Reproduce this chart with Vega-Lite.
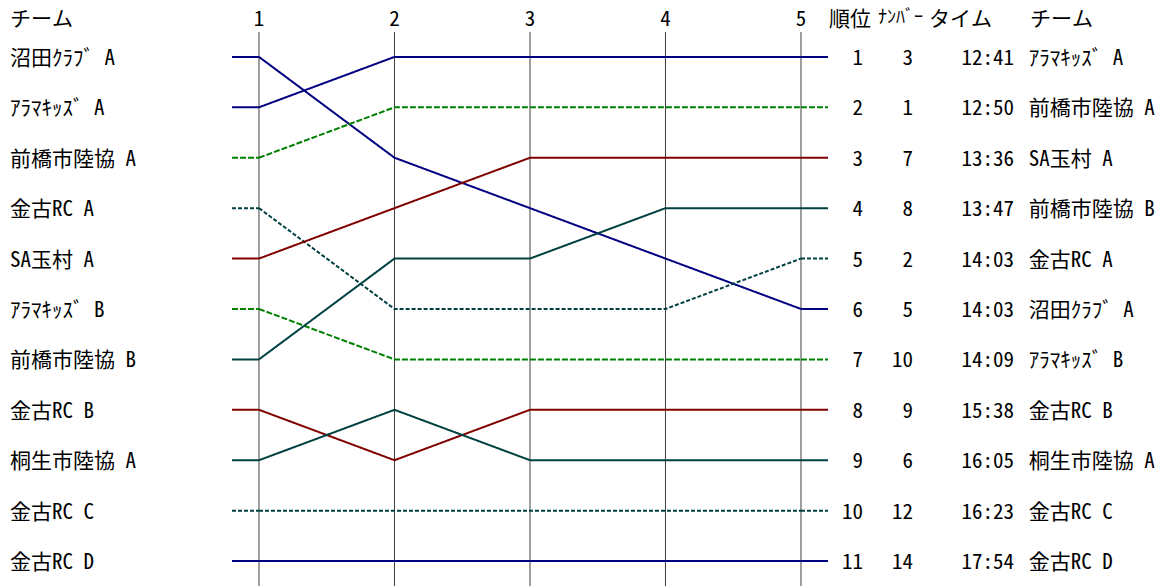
{
  "$schema": "https://vega.github.io/schema/vega-lite/v6.json",
  "width": 1167,
  "height": 587,
  "autosize": {"type": "fit", "contains": "padding"},
  "padding": 0,
  "background": "white",
  "config": {"view": {"stroke": null}, "text": {"font": "Noto Sans Mono CJK JP, Noto Sans CJK JP", "fontSize": 21, "color": "black", "dy": 2}},
  "datasets": {
    "legs": [
      {"team": "沼田ｸﾗﾌﾞ A", "leg": 1, "rank": 1}, {"team": "沼田ｸﾗﾌﾞ A", "leg": 2, "rank": 3}, {"team": "沼田ｸﾗﾌﾞ A", "leg": 3, "rank": 4}, {"team": "沼田ｸﾗﾌﾞ A", "leg": 4, "rank": 5}, {"team": "沼田ｸﾗﾌﾞ A", "leg": 5, "rank": 6},
      {"team": "ｱﾗﾏｷｯｽﾞ A", "leg": 1, "rank": 2}, {"team": "ｱﾗﾏｷｯｽﾞ A", "leg": 2, "rank": 1}, {"team": "ｱﾗﾏｷｯｽﾞ A", "leg": 3, "rank": 1}, {"team": "ｱﾗﾏｷｯｽﾞ A", "leg": 4, "rank": 1}, {"team": "ｱﾗﾏｷｯｽﾞ A", "leg": 5, "rank": 1},
      {"team": "前橋市陸協 A", "leg": 1, "rank": 3}, {"team": "前橋市陸協 A", "leg": 2, "rank": 2}, {"team": "前橋市陸協 A", "leg": 3, "rank": 2}, {"team": "前橋市陸協 A", "leg": 4, "rank": 2}, {"team": "前橋市陸協 A", "leg": 5, "rank": 2},
      {"team": "金古RC A", "leg": 1, "rank": 4}, {"team": "金古RC A", "leg": 2, "rank": 6}, {"team": "金古RC A", "leg": 3, "rank": 6}, {"team": "金古RC A", "leg": 4, "rank": 6}, {"team": "金古RC A", "leg": 5, "rank": 5},
      {"team": "SA玉村 A", "leg": 1, "rank": 5}, {"team": "SA玉村 A", "leg": 2, "rank": 4}, {"team": "SA玉村 A", "leg": 3, "rank": 3}, {"team": "SA玉村 A", "leg": 4, "rank": 3}, {"team": "SA玉村 A", "leg": 5, "rank": 3},
      {"team": "ｱﾗﾏｷｯｽﾞ B", "leg": 1, "rank": 6}, {"team": "ｱﾗﾏｷｯｽﾞ B", "leg": 2, "rank": 7}, {"team": "ｱﾗﾏｷｯｽﾞ B", "leg": 3, "rank": 7}, {"team": "ｱﾗﾏｷｯｽﾞ B", "leg": 4, "rank": 7}, {"team": "ｱﾗﾏｷｯｽﾞ B", "leg": 5, "rank": 7},
      {"team": "前橋市陸協 B", "leg": 1, "rank": 7}, {"team": "前橋市陸協 B", "leg": 2, "rank": 5}, {"team": "前橋市陸協 B", "leg": 3, "rank": 5}, {"team": "前橋市陸協 B", "leg": 4, "rank": 4}, {"team": "前橋市陸協 B", "leg": 5, "rank": 4},
      {"team": "金古RC B", "leg": 1, "rank": 8}, {"team": "金古RC B", "leg": 2, "rank": 9}, {"team": "金古RC B", "leg": 3, "rank": 8}, {"team": "金古RC B", "leg": 4, "rank": 8}, {"team": "金古RC B", "leg": 5, "rank": 8},
      {"team": "桐生市陸協 A", "leg": 1, "rank": 9}, {"team": "桐生市陸協 A", "leg": 2, "rank": 8}, {"team": "桐生市陸協 A", "leg": 3, "rank": 9}, {"team": "桐生市陸協 A", "leg": 4, "rank": 9}, {"team": "桐生市陸協 A", "leg": 5, "rank": 9},
      {"team": "金古RC C", "leg": 1, "rank": 10}, {"team": "金古RC C", "leg": 2, "rank": 10}, {"team": "金古RC C", "leg": 3, "rank": 10}, {"team": "金古RC C", "leg": 4, "rank": 10}, {"team": "金古RC C", "leg": 5, "rank": 10},
      {"team": "金古RC D", "leg": 1, "rank": 11}, {"team": "金古RC D", "leg": 2, "rank": 11}, {"team": "金古RC D", "leg": 3, "rank": 11}, {"team": "金古RC D", "leg": 4, "rank": 11}, {"team": "金古RC D", "leg": 5, "rank": 11}
    ],
    "results": [
      {"rank": 1, "num": 3, "time": "12:41", "team": "ｱﾗﾏｷｯｽﾞ A"},
      {"rank": 2, "num": 1, "time": "12:50", "team": "前橋市陸協 A"},
      {"rank": 3, "num": 7, "time": "13:36", "team": "SA玉村 A"},
      {"rank": 4, "num": 8, "time": "13:47", "team": "前橋市陸協 B"},
      {"rank": 5, "num": 2, "time": "14:03", "team": "金古RC A"},
      {"rank": 6, "num": 5, "time": "14:03", "team": "沼田ｸﾗﾌﾞ A"},
      {"rank": 7, "num": 10, "time": "14:09", "team": "ｱﾗﾏｷｯｽﾞ B"},
      {"rank": 8, "num": 9, "time": "15:38", "team": "金古RC B"},
      {"rank": 9, "num": 6, "time": "16:05", "team": "桐生市陸協 A"},
      {"rank": 10, "num": 12, "time": "16:23", "team": "金古RC C"},
      {"rank": 11, "num": 14, "time": "17:54", "team": "金古RC D"}
    ],
    "legLabels": [{"leg": 1}, {"leg": 2}, {"leg": 3}, {"leg": 4}, {"leg": 5}],
    "headers": [
      {"label": "チーム", "col": "left"},
      {"label": "順位", "col": "rank"},
      {"label": "タイム", "col": "time"},
      {"label": "チーム", "col": "right"}
    ]
  },
  "layer": [
    {
      "data": {"name": "legLabels"},
      "mark": {"type": "rule", "color": "#404040", "strokeWidth": 1},
      "encoding": {
        "x": {"field": "leg", "type": "quantitative", "scale": {"domain": [-0.9114, 7.7011], "nice": false, "zero": false}, "axis": null},
        "y": {"datum": 0.505, "type": "quantitative", "scale": {"domain": [-0.1287, 11.4951], "nice": false, "zero": false, "reverse": true}, "axis": null},
        "y2": {"datum": 11.4951}
      }
    },
    {
      "data": {"name": "legLabels"},
      "mark": {"type": "text", "baseline": "middle", "align": "center"},
      "encoding": {
        "x": {"field": "leg", "type": "quantitative"},
        "y": {"datum": 0.2277, "type": "quantitative"},
        "text": {"field": "leg"}
      }
    },
    {
      "data": {"name": "legs"},
      "mark": {"type": "line", "strokeWidth": 2},
      "encoding": {
        "x": {"field": "leg", "type": "quantitative"},
        "y": {"field": "rank", "type": "quantitative"},
        "detail": {"field": "team"},
        "color": {"field": "team", "type": "nominal", "legend": null,
          "scale": {"domain": ["沼田ｸﾗﾌﾞ A", "ｱﾗﾏｷｯｽﾞ A", "前橋市陸協 A", "金古RC A", "SA玉村 A", "ｱﾗﾏｷｯｽﾞ B", "前橋市陸協 B", "金古RC B", "桐生市陸協 A", "金古RC C", "金古RC D"],
                    "range": ["#000080", "#000080", "#008000", "#004040", "#800000", "#008000", "#004040", "#800000", "#004040", "#004040", "#000080"]}},
        "strokeDash": {"field": "team", "type": "nominal", "legend": null,
          "scale": {"domain": ["沼田ｸﾗﾌﾞ A", "ｱﾗﾏｷｯｽﾞ A", "前橋市陸協 A", "金古RC A", "SA玉村 A", "ｱﾗﾏｷｯｽﾞ B", "前橋市陸協 B", "金古RC B", "桐生市陸協 A", "金古RC C", "金古RC D"],
                    "range": [[1, 0], [1, 0], [6, 2], [4, 2], [1, 0], [6, 2], [1, 0], [1, 0], [1, 0], [4, 2], [1, 0]]}}
      }
    },
    {
      "data": {"name": "legs"},
      "transform": [{"filter": "datum.leg == 1"}],
      "mark": {"type": "rule", "strokeWidth": 2},
      "encoding": {
        "x": {"datum": 0.8007, "type": "quantitative"},
        "x2": {"datum": 1},
        "y": {"field": "rank", "type": "quantitative"},
        "color": {"field": "team", "type": "nominal", "legend": null},
        "strokeDash": {"field": "team", "type": "nominal", "legend": null}
      }
    },
    {
      "data": {"name": "legs"},
      "transform": [{"filter": "datum.leg == 5"}],
      "mark": {"type": "rule", "strokeWidth": 2},
      "encoding": {
        "x": {"datum": 5, "type": "quantitative"},
        "x2": {"datum": 5.1993},
        "y": {"field": "rank", "type": "quantitative"},
        "color": {"field": "team", "type": "nominal", "legend": null},
        "strokeDash": {"field": "team", "type": "nominal", "legend": null}
      }
    },
    {
      "data": {"name": "legs"},
      "transform": [{"filter": "datum.leg == 1"}],
      "mark": {"type": "text", "align": "left", "baseline": "middle"},
      "encoding": {
        "x": {"datum": -0.8376, "type": "quantitative"},
        "y": {"field": "rank", "type": "quantitative"},
        "text": {"field": "team"}
      }
    },
    {
      "data": {"name": "results"},
      "mark": {"type": "text", "align": "right", "baseline": "middle"},
      "encoding": {
        "x": {"datum": 5.4576, "type": "quantitative"},
        "y": {"field": "rank", "type": "quantitative"},
        "text": {"field": "rank"}
      }
    },
    {
      "data": {"name": "results"},
      "mark": {"type": "text", "align": "right", "baseline": "middle"},
      "encoding": {
        "x": {"datum": 5.8266, "type": "quantitative"},
        "y": {"field": "rank", "type": "quantitative"},
        "text": {"field": "num"}
      }
    },
    {
      "data": {"name": "results"},
      "mark": {"type": "text", "align": "right", "baseline": "middle"},
      "encoding": {
        "x": {"datum": 6.572, "type": "quantitative"},
        "y": {"field": "rank", "type": "quantitative"},
        "text": {"field": "time"}
      }
    },
    {
      "data": {"name": "results"},
      "mark": {"type": "text", "align": "left", "baseline": "middle"},
      "encoding": {
        "x": {"datum": 6.68, "type": "quantitative"},
        "y": {"field": "rank", "type": "quantitative"},
        "text": {"field": "team"}
      }
    },
    {
      "data": {"name": "headers"},
      "transform": [{"filter": "datum.col == 'left'"}],
      "mark": {"type": "text", "align": "left", "baseline": "middle"},
      "encoding": {"x": {"datum": -0.8376, "type": "quantitative"}, "y": {"datum": 0.2277, "type": "quantitative"}, "text": {"field": "label"}}
    },
    {
      "data": {"name": "headers"},
      "transform": [{"filter": "datum.col == 'rank'"}],
      "mark": {"type": "text", "align": "left", "baseline": "middle"},
      "encoding": {"x": {"datum": 5.2066, "type": "quantitative"}, "y": {"datum": 0.2277, "type": "quantitative"}, "text": {"field": "label"}}
    },
    {
      "data": {"name": "headers"},
      "transform": [{"filter": "datum.col == 'time'"}],
      "mark": {"type": "text", "align": "left", "baseline": "middle"},
      "encoding": {"x": {"datum": 5.945, "type": "quantitative"}, "y": {"datum": 0.2277, "type": "quantitative"}, "text": {"field": "label"}}
    },
    {
      "data": {"name": "headers"},
      "transform": [{"filter": "datum.col == 'right'"}],
      "mark": {"type": "text", "align": "left", "baseline": "middle"},
      "encoding": {"x": {"datum": 6.69, "type": "quantitative"}, "y": {"datum": 0.2277, "type": "quantitative"}, "text": {"field": "label"}}
    },
    {
      "data": {"values": [{"label": "ﾅﾝﾊﾞｰ"}]},
      "mark": {"type": "text", "align": "left", "baseline": "middle", "fontSize": 18, "dy": 0},
      "encoding": {"x": {"datum": 5.5683, "type": "quantitative"}, "y": {"datum": 0.2277, "type": "quantitative"}, "text": {"field": "label"}}
    }
  ]
}
